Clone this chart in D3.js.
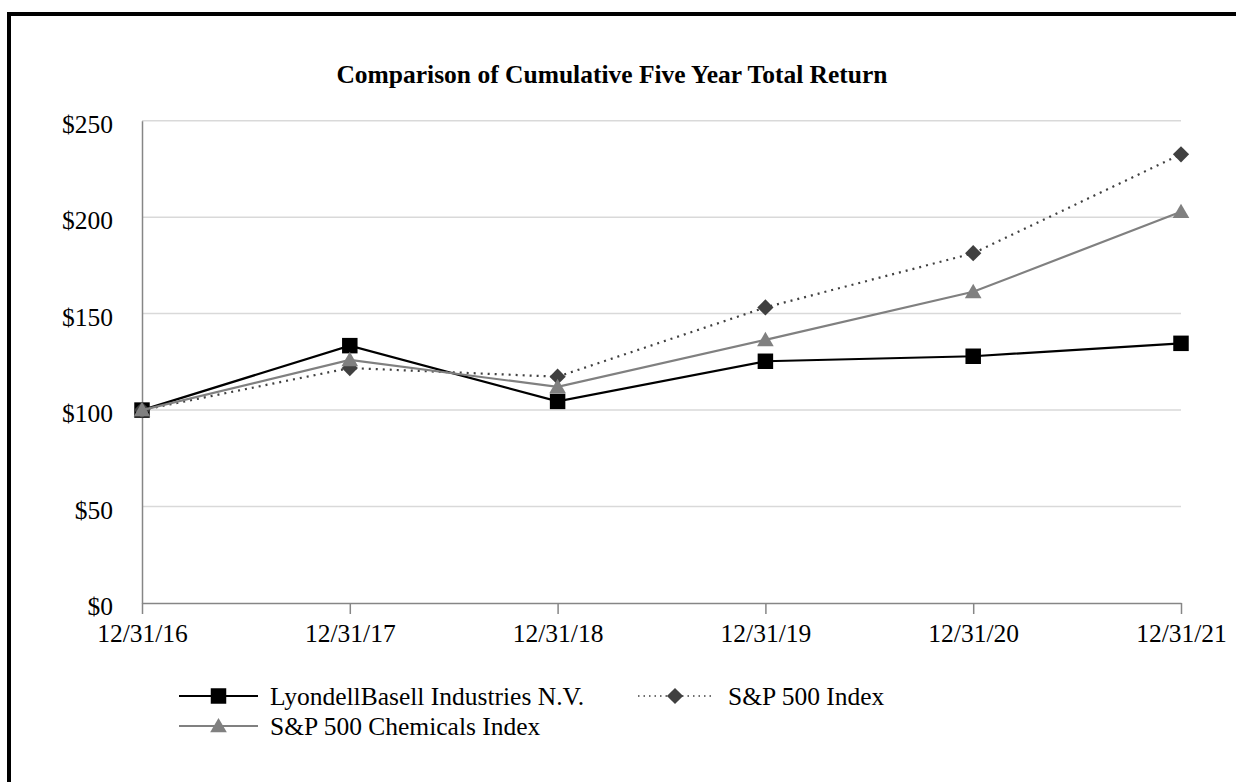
<!DOCTYPE html>
<html>
<head>
<meta charset="utf-8">
<script src="https://cdn.jsdelivr.net/npm/d3@7"></script>
<style>
  body { margin: 0; background: #fff; }
  svg { display: block; }
</style>
</head>
<body>
<div id="chart"></div>
<script>
// Data
const dates = ["12/31/16", "12/31/17", "12/31/18", "12/31/19", "12/31/20", "12/31/21"];
const lybValues = [100, 133.4, 104.5, 125.3, 127.9, 134.6];
const sp500Values = [100, 121.8, 117.3, 153.2, 181.3, 232.6];
const chemValues = [100, 126, 112, 136.4, 161.3, 202.8];
const yTicks = [0, 50, 100, 150, 200, 250];

const seriesNames = ["LyondellBasell Industries N.V.", "S&P 500 Index", "S&P 500 Chemicals Index"];

const width = 1236;
const height = 782;
const font = "'Liberation Serif', 'Times New Roman', serif";

const svg = d3.select("#chart")
    .append("svg")
    .attr("width", width)
    .attr("height", height)
    .style("font-family", font);

// outer frame (cropped on the right and bottom)
svg.append("rect")
    .attr("x", 9)
    .attr("y", 14)
    .attr("width", width + 20)
    .attr("height", height + 20)
    .attr("fill", "none")
    .attr("stroke", "#000")
    .attr("stroke-width", 4);

const x = d3.scalePoint().domain(dates).range([142, 1181]).padding(0);
const y = d3.scaleLinear().domain([0, 250]).range([603, 120.7]);

// title
svg.append("text")
    .attr("x", 612)
    .attr("y", 83)
    .attr("text-anchor", "middle")
    .attr("font-size", "25.5px")
    .attr("font-weight", "bold")
    .attr("fill", "#000")
    .text("Comparison of Cumulative Five Year Total Return");

// gridlines
svg.append("g")
    .selectAll("line")
    .data(yTicks.filter(d => d > 0))
    .join("line")
    .attr("x1", x.range()[0])
    .attr("x2", x.range()[1])
    .attr("y1", d => y(d))
    .attr("y2", d => y(d))
    .attr("stroke", "#d9d9d9")
    .attr("stroke-width", 1.5);

// y axis
const yAxis = svg.append("g")
    .attr("transform", `translate(${x.range()[0]},0)`)
    .call(d3.axisLeft(y).tickValues(yTicks).tickSize(0).tickPadding(29).tickFormat(d => "$" + d));
yAxis.select(".domain").attr("stroke", "#868686").attr("stroke-width", 1.5);
yAxis.selectAll("text")
    .attr("font-family", font)
    .attr("font-size", "25.5px")
    .attr("fill", "#000")
    .attr("dy", "0.45em");

// x axis
const xAxis = svg.append("g")
    .attr("transform", `translate(0,${y(0)})`)
    .call(d3.axisBottom(x).tickSizeInner(11).tickSizeOuter(0).tickPadding(10));
xAxis.select(".domain").attr("stroke", "#868686").attr("stroke-width", 1.5);
xAxis.selectAll(".tick line").attr("stroke", "#868686").attr("stroke-width", 1.5);
xAxis.selectAll("text")
    .attr("font-family", font)
    .attr("font-size", "25.5px")
    .attr("fill", "#000");

const series = [
    { name: seriesNames[0], values: lybValues, color: "#000", dash: null, marker: "square", markerColor: "#000" },
    { name: seriesNames[1], values: sp500Values, color: "#404040", dash: "2,5", marker: "diamond", markerColor: "#404040" },
    { name: seriesNames[2], values: chemValues, color: "#808080", dash: null, marker: "triangle", markerColor: "#808080" }
];

const symbolFor = {
    square: d3.symbol().type(d3.symbolSquare).size(240),
    diamond: d3.symbol().type(d3.symbolSquare).size(132),
    triangle: d3.symbol().type(d3.symbolTriangle).size(120)
};

function drawMarker(sel, s, cx, cy) {
    sel.append("path")
        .attr("d", symbolFor[s.marker]())
        .attr("transform", s.marker === "diamond"
            ? `translate(${cx},${cy}) rotate(45)`
            : s.marker === "triangle" ? `translate(${cx},${cy + 1.5})` : `translate(${cx},${cy})`)
        .attr("fill", s.markerColor);
}

const line = d3.line()
    .x((d, i) => x(dates[i]))
    .y(d => y(d));

const plot = svg.append("g");
series.forEach(s => {
    const g = plot.append("g");
    g.append("path")
        .datum(s.values)
        .attr("d", line)
        .attr("fill", "none")
        .attr("stroke", s.color)
        .attr("stroke-width", 2.2)
        .attr("stroke-dasharray", s.dash);
    s.values.forEach((v, i) => drawMarker(g, s, x(dates[i]), y(v)));
});

// legend
const legendItems = [
    { s: series[0], x0: 179, x1: 258, ty: 696, tx: 270 },
    { s: series[1], x0: 638, x1: 712, ty: 696, tx: 728 },
    { s: series[2], x0: 179, x1: 258, ty: 726, tx: 270 }
];
const legend = svg.append("g");
legendItems.forEach(item => {
    const g = legend.append("g");
    g.append("line")
        .attr("x1", item.x0)
        .attr("x2", item.x1)
        .attr("y1", item.ty)
        .attr("y2", item.ty)
        .attr("stroke", item.s.color)
        .attr("stroke-width", item.s.dash ? 1.5 : 2.2)
        .attr("stroke-dasharray", item.s.dash ? "1.5,4" : null);
    drawMarker(g, item.s, (item.x0 + item.x1) / 2, item.ty);
    g.append("text")
        .attr("x", item.tx)
        .attr("y", item.ty + 8.5)
        .attr("font-size", "25.5px")
        .attr("fill", "#000")
        .text(item.s.name);
});
</script>
</body>
</html>
